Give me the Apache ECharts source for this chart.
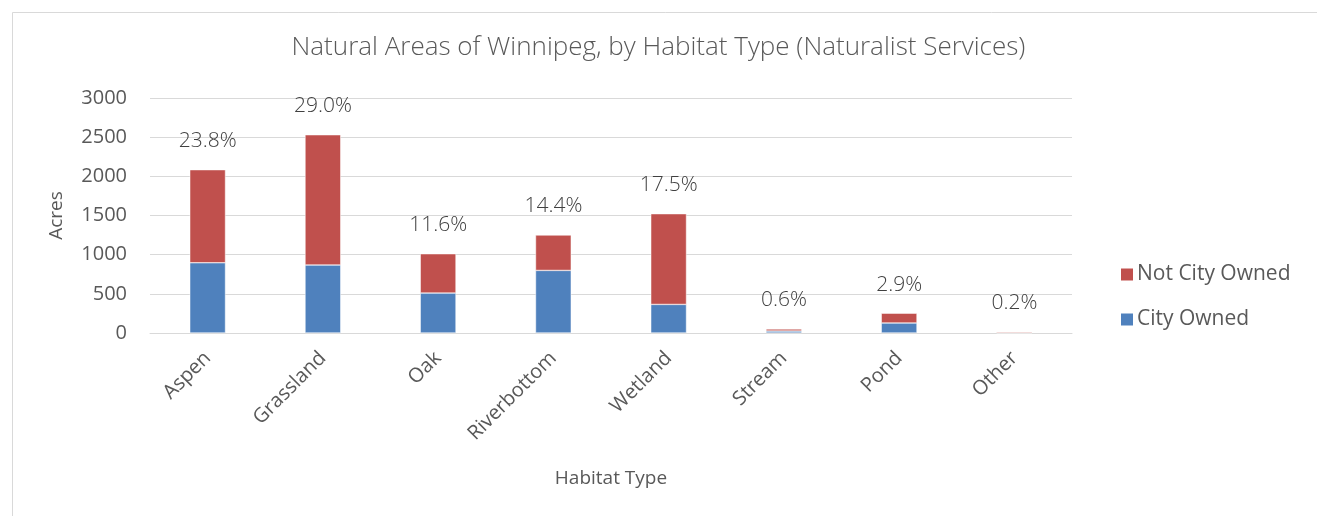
<!DOCTYPE html>
<html>
<head>
<meta charset="utf-8">
<script src="https://cdn.jsdelivr.net/npm/echarts@6/dist/echarts.min.js"></script>
<style>
html,body{margin:0;padding:0;background:#fff;}
#chart{width:1317px;height:516px;}
</style>
</head>
<body>
<div id="chart"></div>
<script>
const categories = ['Aspen','Grassland','Oak','Riverbottom','Wetland','Stream','Pond','Other'];
const cityOwned = [897, 868, 510, 799, 365, 25, 128, 3];
const notCityOwned = [1188, 1663, 502, 452, 1158, 27, 125, 14];
const pctLabels = ['23.8%','29.0%','11.6%','14.4%','17.5%','0.6%','2.9%','0.2%'];
const yTicks = [0, 500, 1000, 1500, 2000, 2500, 3000];

const FONT = 'Open Sans';
const chart = echarts.init(document.getElementById('chart'));
chart.setOption({
  backgroundColor: '#ffffff',
  animation: false,
  textStyle: { fontFamily: FONT },
  title: {
    text: 'Natural Areas of Winnipeg, by Habitat Type (Naturalist Services)',
    left: 'center', top: 30,
    textStyle: { fontFamily: FONT, fontSize: 26, fontWeight: 300, color: '#595959' }
  },
  graphic: [{
    type: 'rect', left: 10, top: 10,
    shape: { width: 1306, height: 520 },
    style: { fill: 'none', stroke: '#D9D9D9', lineWidth: 1 },
    silent: true
  }],
  legend: {
    orient: 'vertical', left: 1114, top: 259,
    itemWidth: 14, itemHeight: 14, itemGap: 24,
    icon: 'rect',
    data: ['Not City Owned', 'City Owned'],
    textStyle: { fontFamily: FONT, fontSize: 21, color: '#595959', padding: [0, 0, 0, -2] }
  },
  grid: { left: 150, right: 245, top: 98, bottom: 183, containLabel: false },
  xAxis: {
    type: 'category', data: categories,
    name: 'Habitat Type', nameLocation: 'middle', nameGap: 136,
    nameTextStyle: { fontFamily: FONT, fontSize: 19, color: '#595959' },
    axisLine: { lineStyle: { color: '#D9D9D9', width: 1 } },
    axisTick: { show: false },
    axisLabel: { rotate: 45, fontFamily: FONT, fontSize: 20, color: '#595959', margin: 22, interval: 0 }
  },
  yAxis: {
    type: 'value', min: yTicks[0], max: yTicks[yTicks.length - 1], interval: 500,
    name: 'Acres', nameLocation: 'middle', nameGap: 84,
    nameTextStyle: { fontFamily: FONT, fontSize: 19, color: '#595959' },
    axisLine: { show: false }, axisTick: { show: false },
    axisLabel: { fontFamily: FONT, fontSize: 20, color: '#595959', margin: 23, formatter: v => String(v) },
    splitLine: { lineStyle: { color: '#D9D9D9', width: 1 } }
  },
  series: [
    {
      name: 'City Owned', type: 'bar', stack: 'total', data: cityOwned,
      barWidth: '31%',
      itemStyle: { color: '#4F81BD', borderColor: '#ffffff', borderWidth: 0.5 }
    },
    {
      name: 'Not City Owned', type: 'bar', stack: 'total', data: notCityOwned,
      barWidth: '31%',
      itemStyle: { color: '#C0504D', borderColor: '#ffffff', borderWidth: 0.5 },
      label: {
        show: true, position: 'top', distance: 18,
        fontFamily: FONT, fontSize: 21, fontWeight: 300, color: '#404040',
        formatter: p => pctLabels[p.dataIndex]
      }
    }
  ]
});
</script>
</body>
</html>
